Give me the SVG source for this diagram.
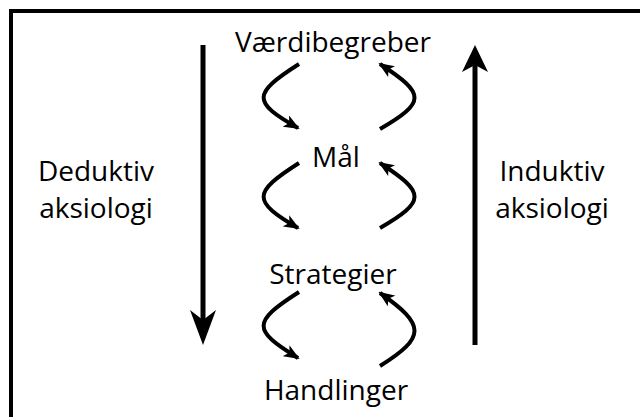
<svg xmlns="http://www.w3.org/2000/svg" width="640" height="417" viewBox="0 0 640 417">
<style>
  text { font-family: "Open Sans", "Noto Sans", sans-serif; font-size: 28px; fill: #000; text-anchor: middle; }
  .curve { fill: none; stroke: #000; stroke-width: 4; stroke-linecap: butt; stroke-linejoin: round; }
  .main { stroke: #000; stroke-width: 5; }
</style>
<defs>
  <marker id="ah" markerUnits="userSpaceOnUse" viewBox="0 0 16 13" markerWidth="16" markerHeight="13" refX="14" refY="6.5" orient="auto">
    <path d="M0,0 L16,6.5 L0,13 L4,6.5 z" fill="#000"/>
  </marker>
</defs>
<rect x="11" y="11" width="650" height="430" fill="#fff" stroke="#000" stroke-width="4"/>
<g id="nodes">
  <g id="n-vaerdibegreber"><text x="333" y="52">Værdibegreber</text></g>
  <g id="n-maal"><text x="336" y="167">Mål</text></g>
  <g id="n-strategier"><text x="333" y="284">Strategier</text></g>
  <g id="n-handlinger"><text x="336" y="400">Handlinger</text></g>
  <g id="n-deduktiv"><text x="96" y="181">Deduktiv</text><text x="96" y="218">aksiologi</text></g>
  <g id="n-induktiv"><text x="552" y="181">Induktiv</text><text x="552" y="218">aksiologi</text></g>
</g>
<g id="connectors">
  <line class="main" x1="203" y1="45" x2="203" y2="322"/>
  <polygon points="203,345 216,310 203,320 190,310" fill="#000"/>
  <line class="main" x1="475" y1="63" x2="475" y2="345"/>
  <polygon points="475,45 488,72 475,65 462,72" fill="#000"/>

  <path class="curve" marker-end="url(#ah)" d="M299,64 C252,94 252,102 298,128"/>
  <path class="curve" marker-end="url(#ah)" d="M380,129 C426,102 426,94 380,64"/>

  <path class="curve" marker-end="url(#ah)" d="M299,163 C252,193 252,201 298,228"/>
  <path class="curve" marker-end="url(#ah)" d="M380,228 C426,201 426,193 380,163"/>

  <path class="curve" marker-end="url(#ah)" d="M299,292 C252,322 252,330 298,358"/>
  <path class="curve" marker-end="url(#ah)" d="M380,366 C426,337 426,325 380,293"/>
</g>
</svg>
